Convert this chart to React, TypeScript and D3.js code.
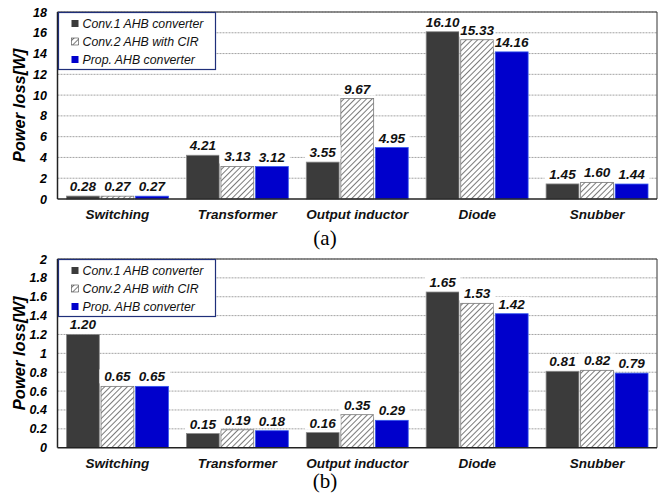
import React from "react";
import * as d3 from "d3";

const categories = ["Switching", "Transformer", "Output inductor", "Diode", "Snubber"];
const seriesNames = ["Conv.1 AHB converter", "Conv.2 AHB with CIR", "Prop. AHB converter"];

// Panel (a)
const lossA_conv1 = [0.28, 4.21, 3.55, 16.1, 1.45];
const lossA_conv2 = [0.27, 3.13, 9.67, 15.33, 1.6];
const lossA_prop = [0.27, 3.12, 4.95, 14.16, 1.44];
const ticksA = [0, 2, 4, 6, 8, 10, 12, 14, 16, 18];

// Panel (b)
const lossB_conv1 = [1.2, 0.15, 0.16, 1.65, 0.81];
const lossB_conv2 = [0.65, 0.19, 0.35, 1.53, 0.82];
const lossB_prop = [0.65, 0.18, 0.29, 1.42, 0.79];
const ticksB = [0, 0.2, 0.4, 0.6, 0.8, 1, 1.2, 1.4, 1.6, 1.8, 2];

const FONT = "'Liberation Sans', Arial, sans-serif";
const fills = ["#3b3b3b", "url(#hatch)", "#0000cc"];
const strokes = ["#8a8a8a", "#777777", "#3355ee"];

type PanelProps = {
  series: number[][];
  ticks: number[];
  top: number;
  bottom: number;
  caption: string;
  captionY: number;
};

function Panel({ series, ticks, top, bottom, caption, captionY }: PanelProps) {
  const left = 57.5;
  const right = 657;
  const yMax = ticks[ticks.length - 1];
  const y = d3.scaleLinear().domain([0, yMax]).range([bottom, top]);
  const x0 = d3.scaleBand<string>().domain(categories).range([left, right]).paddingInner(0.15).paddingOuter(0.075);
  const x1 = d3.scaleBand<number>().domain([0, 1, 2]).range([0, x0.bandwidth()]).paddingInner(0.05);
  const fmt = (v: number) => d3.format(".2f")(v);
  const tickFmt = (v: number) => (yMax > 5 ? String(v) : String(+v.toFixed(1)));

  return (
    <g>
      {/* grid */}
      {ticks.filter((t) => t > 0).map((t) => (
        <line key={"g" + t} x1={left} x2={right} y1={y(t)} y2={y(t)} stroke="#8c8c8c" strokeWidth={0.8} strokeDasharray="2,1" />
      ))}
      {/* frame */}
      <line x1={left} x2={right} y1={top} y2={top} stroke="#333" strokeWidth={1} />
      <line x1={right} x2={right} y1={top} y2={bottom} stroke="#333" strokeWidth={1} />
      {/* y tick labels */}
      {ticks.map((t) => (
        <text key={"t" + t} x={47} y={y(t) + 4.5} textAnchor="end" fontFamily={FONT} fontSize={12.5} fontWeight="bold" fontStyle="italic" fill="#000">
          {tickFmt(t)}
        </text>
      ))}
      {/* y title */}
      <text transform={`translate(25,${(top + bottom) / 2}) rotate(-90)`} textAnchor="middle" fontFamily={FONT} fontSize={16.5} fontWeight="bold" fontStyle="italic">
        Power loss[W]
      </text>
      {/* bars */}
      {categories.map((c, ci) => (
        <g key={c} transform={`translate(${x0(c)},0)`}>
          {series.map((s, si) => (
            <rect key={si} x={x1(si)} y={y(s[ci])} width={x1.bandwidth()} height={bottom - y(s[ci])} fill={fills[si]} stroke={strokes[si]} strokeWidth={0.8} />
          ))}
        </g>
      ))}
      {/* value labels */}
      {categories.map((c, ci) => (
        <g key={"l" + c} transform={`translate(${x0(c)},0)`}>
          {series.map((s, si) => {
            const cx = (x1(si) as number) + x1.bandwidth() / 2;
            const by = y(s[ci]) - 5;
            return (
              <g key={si}>
                <rect x={cx - 18} y={by - 12} width={36} height={14} fill="#fff" />
                <text x={cx} y={by} textAnchor="middle" fontFamily={FONT} fontSize={13.5} fontWeight="bold" fontStyle="italic" fill="#111">
                  {fmt(s[ci])}
                </text>
              </g>
            );
          })}
        </g>
      ))}
      {/* axes */}
      <line x1={left} x2={left} y1={top} y2={bottom} stroke="#222" strokeWidth={1.5} />
      <line x1={left} x2={right} y1={bottom} y2={bottom} stroke="#222" strokeWidth={1.5} />
      {/* category labels */}
      {categories.map((c) => (
        <text key={"c" + c} x={(x0(c) as number) + x0.bandwidth() / 2} y={bottom + 20} textAnchor="middle" fontFamily={FONT} fontSize={13.5} fontWeight="bold" fontStyle="italic" fill="#111">
          {c}
        </text>
      ))}
      {/* legend */}
      <g transform={`translate(${left + 1},${top + 0.5})`}>
        <rect x={0} y={0} width={157} height={57} fill="#fff" stroke="#1f2f7a" strokeWidth={1.2} />
        {seriesNames.map((n, i) => (
          <g key={n} transform={`translate(0,${11 + i * 18})`}>
            <rect x={13} y={-3.5} width={7} height={7} fill={fills[i]} stroke={i === 1 ? "#444" : "none"} strokeWidth={0.6} />
            <text x={24} y={4.5} fontFamily={FONT} fontSize={12.3} fontStyle="italic" fill="#111">
              {n}
            </text>
          </g>
        ))}
      </g>
      {/* caption */}
      <text x={325} y={captionY} textAnchor="middle" fontFamily="'Liberation Serif', 'Times New Roman', serif" fontSize={21} fill="#000">
        {caption}
      </text>
    </g>
  );
}

export default function App() {
  return (
    <svg width={666} height={497} style={{ position: "absolute", left: 0, top: 0, background: "#fff" }}>
      <defs>
        <pattern id="hatch" patternUnits="userSpaceOnUse" width={4} height={4} patternTransform="rotate(45)">
          <rect width={4} height={4} fill="#fff" />
          <line x1={0} y1={0} x2={0} y2={4} stroke="#222" strokeWidth={1.2} />
        </pattern>
      </defs>
      <Panel series={[lossA_conv1, lossA_conv2, lossA_prop]} ticks={ticksA} top={12} bottom={199} caption="(a)" captionY={245} />
      <Panel series={[lossB_conv1, lossB_conv2, lossB_prop]} ticks={ticksB} top={259} bottom={447.7} caption="(b)" captionY={488} />
    </svg>
  );
}
